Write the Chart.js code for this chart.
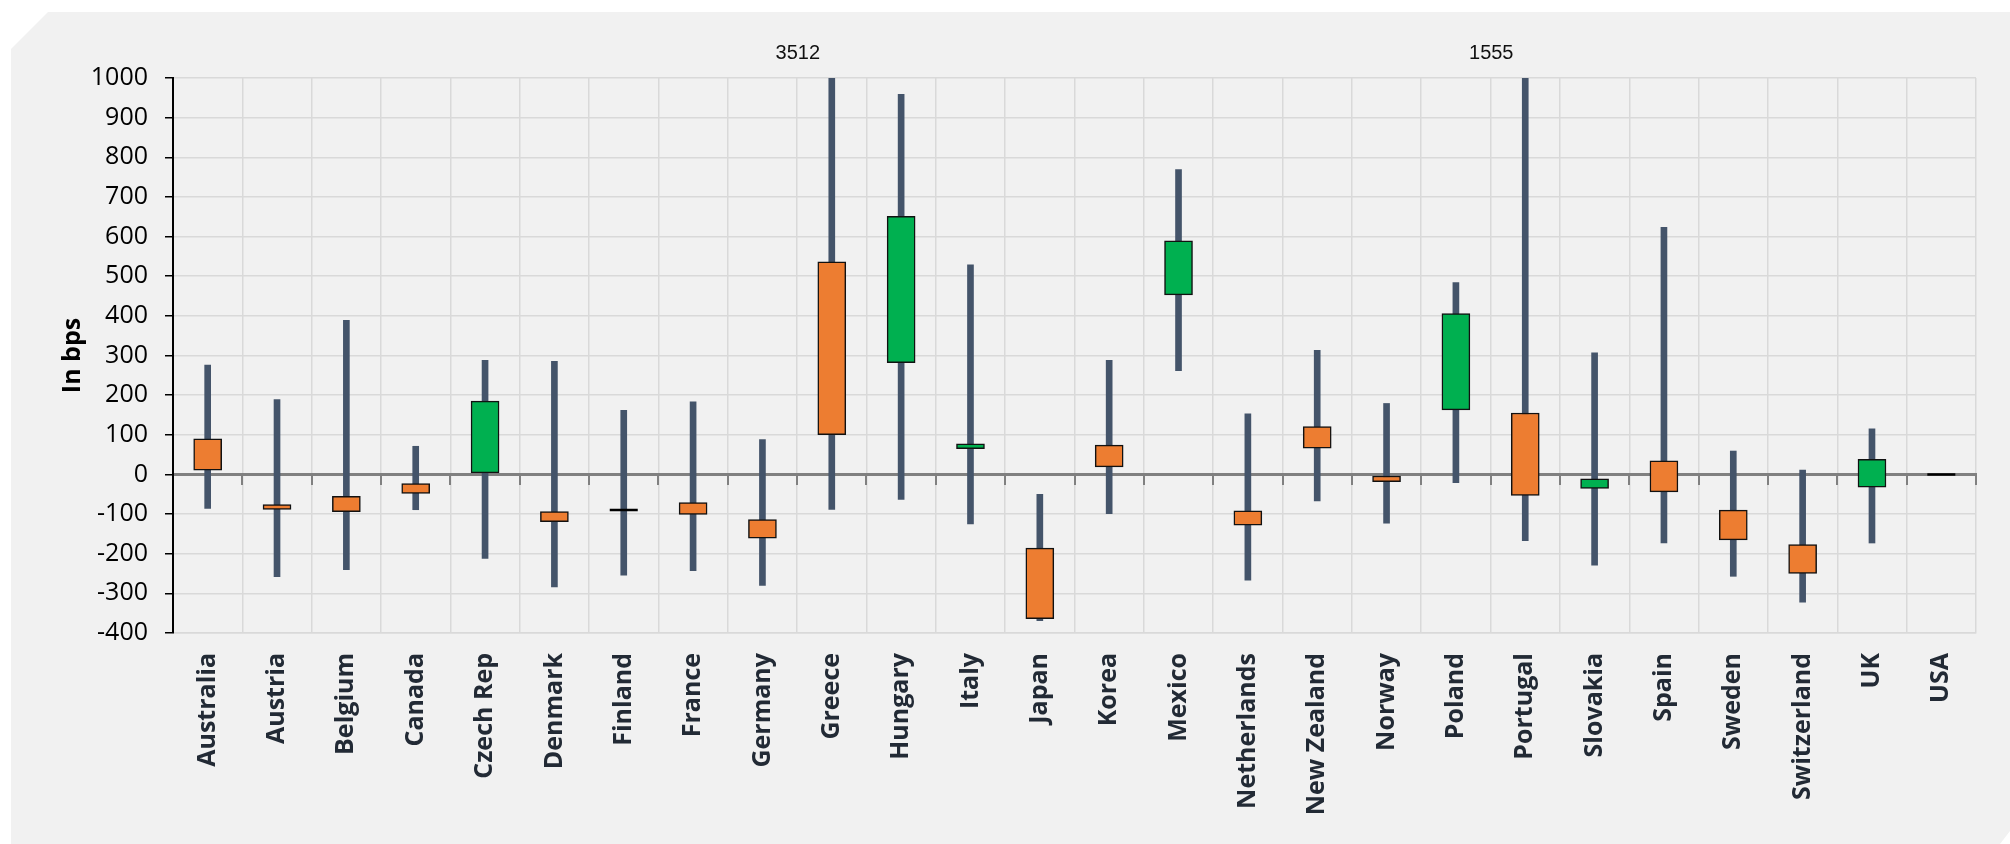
<!DOCTYPE html>
<html>
<head>
<meta charset="utf-8">
<script src="https://cdn.jsdelivr.net/npm/chart.js@4.4.1/dist/chart.umd.min.js"></script>
<style>
  html, body { margin: 0; padding: 0; background: #ffffff; overflow: hidden; }
  #panel {
    position: absolute; left: 11px; top: 12px; right: 0; bottom: 0;
    background: #f1f1f1;
    clip-path: polygon(37px 0, 100% 0, 100% calc(100% - 13px), calc(100% - 10px) 100%, 0 100%, 0 37px);
  }
  #wrap { position: absolute; left: 0; top: 0; width: 2010px; height: 844px; }
</style>
</head>
<body>
<div id="panel"></div>
<div id="wrap"><canvas id="c" width="2010" height="844"></canvas></div>
<script>
// ---- data (in bps) ----
const categories = ["Australia","Austria","Belgium","Canada","Czech Rep","Denmark","Finland","France","Germany","Greece","Hungary","Italy","Japan","Korea","Mexico","Netherlands","New Zealand","Norway","Poland","Portugal","Slovakia","Spain","Sweden","Switzerland","UK","USA"];
const openVals  = [  90,  -76,  -55,  -23,    4,  -94,  -90,  -71, -114,  536,  282,   65, -186,   74,  453,  -92,  121,   -4,  163,  155,  -35,   34,  -90, -177,  -32,   0];
const highVals  = [ 276,  189,  389,   71,  288,  285,  162,  183,   88, 3512,  959,  529,  -50,  288,  769,  153,  313,  179,  484, 1555,  307,  623,   59,   11,  115,   0];
const lowVals   = [ -86, -258, -240,  -89, -212, -284, -254, -243, -280,  -88,  -63, -125, -369,  -99,  262, -267,  -67, -123,  -21, -167, -229, -173, -257, -322, -173,   0];
const closeVals = [  11,  -88,  -94,  -48,  185, -119,  -90, -101, -161,  100,  651,   77, -364,   19,  589, -128,   66,  -18,  406,  -53,  -11,  -44, -165, -250,   38,   0];
const yMin = -400, yMax = 1000, yStep = 100;
const yTitle = "In bps";

// ---- derived series ----
const whiskers = categories.map((_, i) => [lowVals[i], highVals[i]]);
const boxes = categories.map((_, i) => openVals[i] === closeVals[i] ? null :
  [Math.min(openVals[i], closeVals[i]), Math.max(openVals[i], closeVals[i])]);
const boxColors = categories.map((_, i) => closeVals[i] > openVals[i] ? '#00B050' : '#ED7D31');
const dojis = categories.map((_, i) => openVals[i] === closeVals[i] ? closeVals[i] : null);

const overflowLabels = {
  id: 'overflowLabels',
  afterDatasetsDraw(chart) {
    const {ctx, chartArea} = chart;
    const xs = chart.scales.x;
    ctx.save();
    ctx.font = '20px "Liberation Sans", Arial, sans-serif';
    ctx.fillStyle = '#111111';
    ctx.textAlign = 'center';
    ctx.textBaseline = 'middle';
    highVals.forEach((v, i) => {
      if (v > yMax) ctx.fillText(String(v), xs.getPixelForValue(i) - 34, chartArea.top - 25);
    });
    ctx.restore();
  }
};

new Chart(document.getElementById('c'), {
  type: 'bar',
  data: {
    labels: categories,
    datasets: [
      {
        type: 'line', data: dojis, showLine: false, order: 0,
        pointStyle: 'line', pointRadius: 14, pointHoverRadius: 14,
        pointBorderWidth: 2.5, borderColor: '#000000', backgroundColor: '#000000'
      },
      {
        data: boxes, order: 1, grouped: false, barThickness: 28,
        backgroundColor: boxColors, borderColor: '#111111', borderWidth: 1.5, borderSkipped: false
      },
      {
        data: whiskers, order: 2, grouped: false, barThickness: 6,
        backgroundColor: '#44546A', borderWidth: 0
      }
    ]
  },
  options: {
    responsive: false,
    animation: false,
    devicePixelRatio: 1,
    layout: { padding: { top: 78, right: 34, bottom: 0, left: 0 } },
    plugins: { legend: { display: false }, tooltip: { enabled: false } },
    scales: {
      x: {
        type: 'category', offset: true,
        grid: { offset: true, color: '#d9d9d9', lineWidth: 1.5, drawTicks: false },
        border: { display: true, color: '#d9d9d9', width: 1.5 },
        ticks: {
          autoSkip: false, minRotation: 90, maxRotation: 90, padding: 20,
          color: '#222a35', font: { family: '"Open Sans", "Noto Sans", sans-serif', size: 25, weight: 'bold' }
        },
        afterFit(s) { s.height = 211; }
      },
      x2: {
        type: 'category', offset: true, position: { y: 0 },
        labels: categories,
        grid: { offset: true, drawOnChartArea: false, drawTicks: true, tickLength: 9, color: '#808080', lineWidth: 2 },
        border: { display: true, color: '#808080', width: 3 },
        ticks: { display: false }
      },
      y: {
        min: yMin, max: yMax,
        grid: { color: '#d9d9d9', lineWidth: 1.5, tickColor: '#000000', tickLength: 8, drawTicks: true },
        border: { display: true, color: '#000000', width: 2 },
        ticks: {
          stepSize: yStep, padding: 17, color: '#000000',
          font: { family: '"Open Sans", "Noto Sans", sans-serif', size: 25 },
          callback: (v) => String(v)
        },
        title: {
          display: true, text: yTitle, color: '#000000',
          font: { family: '"Open Sans", "Noto Sans", sans-serif', size: 25, weight: 'bold' },
          padding: { top: 58, bottom: 0 }
        },
        afterFit(s) { s.width = 173; }
      }
    }
  },
  plugins: [overflowLabels]
});
</script>
</body>
</html>
